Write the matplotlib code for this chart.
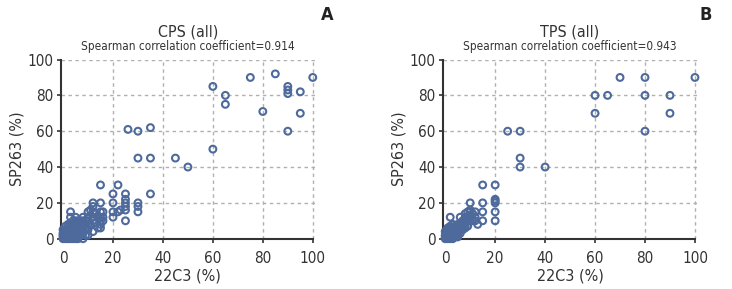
import matplotlib
matplotlib.use("Agg")
import matplotlib.pyplot as plt

plt.rcParams['font.family'] = ['DejaVu Sans']
plt.rcParams['font.stretch'] = 'condensed'

# CPS (all): 22C3 vs SP263
cps_x = [60, 65, 65, 75, 85, 90, 90, 90, 95, 100, 80, 95, 90, 60, 50, 45, 35, 30, 26, 30, 35, 35,
         15, 22, 20, 20, 20, 20, 25, 25, 25, 25, 25, 25, 23, 22, 30, 30, 30,
         15, 15, 15, 15, 15, 15, 12, 12, 12, 12, 12, 12, 10, 10, 10, 11, 13, 14, 16, 16, 16,
         3, 5, 8, 9, 7, 11, 13, 14,
         0, 0, 0, 0, 0, 1, 1, 1, 1, 1, 1, 1, 2, 2, 2, 2, 2, 2, 2, 2,
         3, 3, 3, 3, 3, 3, 3, 3, 4, 4, 4, 4, 4, 4, 4, 4,
         5, 5, 5, 5, 5, 5, 5, 5, 5, 6, 6, 6, 6, 6, 6, 7, 7, 7, 7, 7, 7,
         8, 8, 8, 8, 8, 9, 9, 9, 10, 10, 0.5, 1.5, 2.5, 0.5, 3.5, 4.5, 6, 8, 10, 3]
cps_y = [85, 80, 75, 90, 92, 85, 83, 81, 82, 90, 71, 70, 60, 50, 40, 45, 45, 45, 61, 60, 62, 25,
         30, 30, 25, 20, 15, 12, 25, 22, 20, 18, 16, 10, 16, 15, 20, 18, 15,
         20, 15, 12, 10, 8, 6, 20, 18, 15, 12, 10, 4, 15, 12, 10, 16, 14, 12, 15, 12, 10,
         15, 12, 12, 10, 8, 8, 9, 6,
         0, 1, 2, 3, 5, 0, 1, 2, 3, 4, 5, 7, 0, 1, 2, 3, 4, 5, 6, 8,
         0, 1, 2, 3, 5, 6, 7, 8, 0, 2, 3, 4, 5, 6, 8, 10,
         0, 1, 2, 3, 5, 6, 7, 8, 10, 2, 3, 5, 6, 8, 10, 2, 4, 5, 6, 7, 10,
         3, 5, 6, 8, 10, 2, 6, 8, 5, 8, 0.5, 0.5, 1.5, 1.5, 2.5, 1.5, 0, 0, 2, 12]

# TPS (all): 22C3 vs SP263
tps_x = [70, 80, 100, 60, 65, 80, 90, 60, 90, 80, 25, 30, 30, 30, 40,
         15, 20, 20, 20, 20, 20, 20, 15, 15, 15, 10, 10, 10, 10, 12, 12, 12, 13, 11,
         9, 8, 8, 7, 7, 6, 2, 8, 9, 10, 11,
         0, 0, 0, 0, 1, 1, 1, 1, 1, 1, 2, 2, 2, 2, 2, 2, 2,
         3, 3, 3, 3, 3, 3, 4, 4, 4, 4, 4, 4, 5, 5, 5, 5, 5, 5,
         6, 6, 6, 6, 7, 7, 7, 8, 8, 8, 9, 9, 0.5, 1.5, 2.5, 3.5, 4.5, 1, 3, 5]
tps_y = [90, 90, 90, 80, 80, 80, 80, 70, 70, 60, 60, 60, 45, 40, 40,
         30, 30, 22, 21, 20, 15, 10, 20, 15, 10, 20, 16, 15, 12, 15, 12, 10, 8, 10,
         12, 12, 10, 10, 8, 12, 12, 14, 15, 10, 14,
         0, 1, 2, 4, 0, 1, 2, 3, 4, 5, 0, 1, 2, 3, 4, 5, 7,
         0, 1, 2, 3, 5, 6, 1, 2, 3, 4, 5, 7, 2, 3, 4, 5, 6, 8,
         3, 5, 6, 8, 5, 6, 9, 6, 7, 9, 7, 10, 0.5, 0.5, 1.5, 2.5, 3.5, 6, 8, 1]

panels = [
    (cps_x, cps_y, 'CPS (all)', 'Spearman correlation coefficient=0.914', 'A', 0.0827, 1.045),
    (tps_x, tps_y, 'TPS (all)', 'Spearman correlation coefficient=0.943', 'B', 0.6048, 1.032),
]

fig = plt.figure(figsize=(7.32, 2.89), dpi=100)
ticks = [0, 20, 40, 60, 80, 100]
ink = '#333333'

for x, y, title, subtitle, letter, left, letter_x in panels:
    ax = fig.add_axes([left, 0.174, 0.348, 0.620])
    ax.scatter(x, y, s=24, facecolors='none', edgecolors='#4e6a9c', linewidths=1.5, clip_on=False, zorder=3)
    ax.set_xlim(-1, 101)
    ax.set_ylim(0, 100)
    ax.set_xticks(ticks)
    ax.set_yticks(ticks)
    ax.tick_params(labelsize=11, length=3, width=1.2, color=ink, labelcolor=ink)
    ax.tick_params(axis='x', pad=5.5)
    ax.tick_params(axis='y', pad=2)
    for g in ticks[1:]:
        ax.axvline(g, color='#b0b0b0', linestyle=(0, (2.5, 2.5)), linewidth=1, zorder=1)
        ax.axhline(g, color='#b0b0b0', linestyle=(0, (2.5, 2.5)), linewidth=1, zorder=1)
    ax.spines['top'].set_visible(False)
    ax.spines['right'].set_visible(False)
    ax.spines['left'].set_bounds(0, 100)
    ax.spines['bottom'].set_bounds(-1, 100)
    for s in ('left', 'bottom'):
        ax.spines[s].set_linewidth(1.5)
        ax.spines[s].set_color(ink)
    ax.set_xlabel('22C3 (%)', fontsize=11.5, color=ink, labelpad=2.5)
    ax.set_ylabel('SP263 (%)', fontsize=11.5, color=ink, labelpad=2)
    ax.text(0.5, 1.154, title, transform=ax.transAxes, ha='center', va='center', fontsize=11.5, color=ink)
    ax.text(0.5, 1.07, subtitle, transform=ax.transAxes, ha='center', va='center', fontsize=8.5, color=ink)
    ax.text(letter_x, 1.249, letter, transform=ax.transAxes, ha='center', va='center', fontsize=13,
            fontweight='bold', color='#222222')

fig.savefig("out.png", dpi=100)
